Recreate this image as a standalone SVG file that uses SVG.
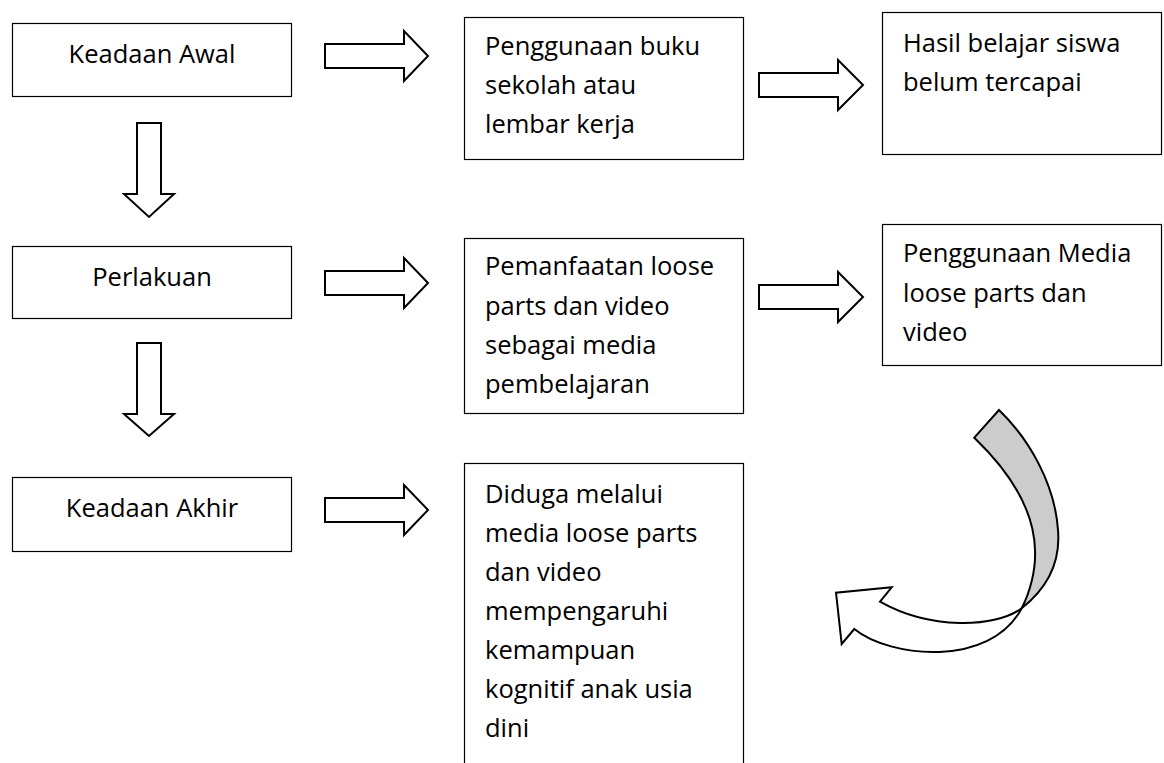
<svg xmlns="http://www.w3.org/2000/svg" width="1164" height="763" viewBox="0 0 1164 763">
<style>
.box{fill:#fff;stroke:#000;stroke-width:1.2}
.t{font-family:"Open Sans","Noto Sans","Liberation Sans",sans-serif;font-size:25.5px;fill:#000}
.c{text-anchor:middle}
.blk{fill:#fff;stroke:#000;stroke-width:2;stroke-linejoin:miter}
</style>
<rect width="1164" height="763" fill="#fff"/>
<g id="keadaan-awal"><rect class="box" x="12.5" y="23.5" width="279" height="73"/><text class="t c" x="152" y="63">Keadaan Awal</text></g>
<g id="perlakuan"><rect class="box" x="12.5" y="246.5" width="279" height="72"/><text class="t c" x="152" y="286">Perlakuan</text></g>
<g id="keadaan-akhir"><rect class="box" x="12.5" y="477.5" width="279" height="74"/><text class="t c" x="152" y="517">Keadaan Akhir</text></g>
<g id="penggunaan-buku"><rect class="box" x="464.5" y="17.5" width="279" height="142"/><text class="t" x="485" y="55">Penggunaan buku</text><text class="t" x="485" y="94">sekolah atau</text><text class="t" x="485" y="133">lembar kerja</text></g>
<g id="pemanfaatan"><rect class="box" x="464.5" y="238.5" width="279" height="175"/><text class="t" x="485" y="275">Pemanfaatan loose</text><text class="t" x="485" y="314.5">parts dan video</text><text class="t" x="485" y="354">sebagai media</text><text class="t" x="485" y="393">pembelajaran</text></g>
<g id="diduga"><rect class="box" x="464.5" y="463.5" width="279" height="330"/><text class="t" x="485" y="503">Diduga melalui</text><text class="t" x="485" y="542">media loose parts</text><text class="t" x="485" y="581">dan video</text><text class="t" x="485" y="620">mempengaruhi</text><text class="t" x="485" y="659">kemampuan</text><text class="t" x="485" y="698">kognitif anak usia</text><text class="t" x="485" y="737">dini</text></g>
<g id="hasil-belajar"><rect class="box" x="882.5" y="12.5" width="279" height="142"/><text class="t" x="903" y="52">Hasil belajar siswa</text><text class="t" x="903" y="91">belum tercapai</text></g>
<g id="penggunaan-media"><rect class="box" x="882.5" y="224.5" width="279" height="141"/><text class="t" x="903" y="262">Penggunaan Media</text><text class="t" x="903" y="302">loose parts dan</text><text class="t" x="903" y="341">video</text></g>
<g id="connectors">
<path class="blk" d="M325,44 H404 V31 L428,56 L404,81 V68 H325 Z"/>
<path class="blk" d="M325,271 H404 V258 L428,283 L404,308 V295 H325 Z"/>
<path class="blk" d="M325,498 H404 V485 L428,510 L404,535 V522 H325 Z"/>
<path class="blk" d="M759,73 H838 V60 L863,85 L838,110 V97 H759 Z"/>
<path class="blk" d="M759,285 H838 V272 L863,297 L838,322 V309 H759 Z"/>
<path class="blk" d="M137,123 V194 H124 L149,217 L174,194 H161 V123 Z"/>
<path class="blk" d="M137,343 V414 H124 L149,436 L174,414 H161 V343 Z"/>
<path fill="#cccccc" stroke="#000" stroke-width="2" stroke-linejoin="miter" d="M999,410 C1030,440 1055,485 1058,530 C1061,565 1045,590 1021.7,608.3 C1030,592 1036,570 1035,550 C1034,510 1010,472 974.3,437.7 Z"/>
<path fill="#fff" stroke="#000" stroke-width="2" stroke-linejoin="miter" d="M1021.7,608.3 C995,628 930,630 880,601.7 L891.7,587.3 L836,592.7 L841.7,644 L854.3,629 C890,658 990,668 1021.7,608.3 Z"/>
</g>
</svg>
